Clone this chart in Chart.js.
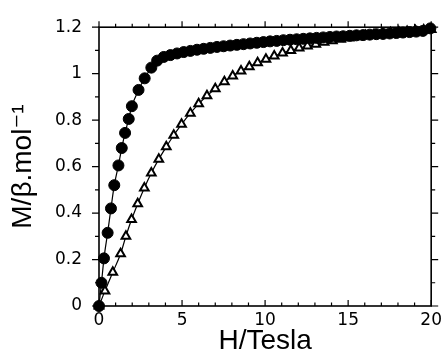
<!DOCTYPE html>
<html lang="en">
<head>
    <meta charset="UTF-8">
    <title>M vs H</title>
    <script src="https://cdn.jsdelivr.net/npm/chart.js"></script>
    <style>
        body {
            margin: 0;
            background-color: #ffffff;
        }
        canvas {
            display: block;
        }
    </style>
</head>
<body>
    <canvas id="myChart" width="446" height="358"></canvas>

    <script>
        // filled circles: field (Tesla) and magnetisation
        const circleH = [0, 0.15, 0.3, 0.52, 0.72, 0.92, 1.17, 1.37, 1.57, 1.79, 1.98, 2.38, 2.75, 3.15, 3.5, 3.9,
            4.3, 4.7, 5.1, 5.5, 5.9, 6.3, 6.7, 7.1, 7.5, 7.9, 8.3, 8.7, 9.1, 9.5, 9.9, 10.3, 10.7, 11.1, 11.5,
            11.9, 12.3, 12.7, 13.1, 13.5, 13.9, 14.3, 14.7, 15.1, 15.5, 15.9, 16.3, 16.7, 17.1, 17.5, 17.9,
            18.3, 18.7, 19.1, 19.5, 19.95];
        const circleM = [0, 0.1, 0.205, 0.315, 0.42, 0.52, 0.605, 0.68, 0.745, 0.805, 0.86, 0.93, 0.98, 1.026, 1.056, 1.072,
            1.08, 1.087, 1.093, 1.098, 1.103, 1.107, 1.111, 1.115, 1.118, 1.121, 1.124, 1.127, 1.13, 1.133, 1.136, 1.139, 1.141, 1.144, 1.146,
            1.148, 1.15, 1.152, 1.154, 1.156, 1.158, 1.16, 1.161, 1.163, 1.165, 1.166, 1.168, 1.17, 1.171, 1.173, 1.175,
            1.177, 1.179, 1.181, 1.184, 1.195];

        // open triangles
        const triangleH = [0, 0.36, 0.83, 1.3, 1.62, 1.96, 2.33, 2.73, 3.15, 3.6, 4.05, 4.5, 4.97, 5.5, 6.0, 6.5, 7.0,
            7.55, 8.05, 8.55, 9.05, 9.55, 10.05, 10.55, 11.05, 11.55, 12.05, 12.55, 13.05, 13.55, 14.05, 14.55,
            15.05, 15.55, 16.05, 16.55, 17.05, 17.55, 18.05, 18.55, 19.05, 19.55, 20.0];
        const triangleM = [0, 0.065, 0.145, 0.225, 0.3, 0.372, 0.44, 0.508, 0.572, 0.632, 0.685, 0.735, 0.782, 0.83, 0.87, 0.905, 0.935,
            0.965, 0.99, 1.012, 1.03, 1.047, 1.062, 1.076, 1.089, 1.1, 1.11, 1.119, 1.127, 1.135, 1.142, 1.148,
            1.154, 1.159, 1.164, 1.168, 1.172, 1.176, 1.179, 1.182, 1.185, 1.188, 1.19];

        const xTicks = [0, 5, 10, 15, 20];
        const xTickLabels = ['0', '5', '10', '15', '20'];
        const yTicks = [0, 0.2, 0.4, 0.6, 0.8, 1, 1.2];
        const yTickLabels = ['0', '0.2', '0.4', '0.6', '0.8', '1', '1.2'];

        // minor tick positions
        const xMinor = [0, 1, 2, 3, 4, 5, 6, 7, 8, 9, 10, 11, 12, 13, 14, 15, 16, 17, 18, 19, 20];
        const yMinor = [0, 0.1, 0.2, 0.3, 0.4, 0.5, 0.6, 0.7, 0.8, 0.9, 1, 1.1, 1.2];

        const tickFont = { family: "'DejaVu Sans', sans-serif", size: 17 };
        const titleFont = { family: "'Liberation Sans', 'DejaVu Sans', sans-serif", size: 28 };

        // frame box with tick marks on all four sides
        const frameTicks = {
            id: 'frameTicks',
            beforeDatasetsDraw(chart) {
                const ctx = chart.ctx;
                const a = chart.chartArea;
                const x = chart.scales.x;
                const y = chart.scales.y;
                ctx.save();
                ctx.strokeStyle = '#000';
                ctx.lineWidth = 1.6;
                ctx.strokeRect(a.left, a.top, a.right - a.left, a.bottom - a.top);
                ctx.lineWidth = 1.2;
                ctx.beginPath();
                xMinor.forEach(function (v) {
                    const px = x.getPixelForValue(v);
                    const len = xTicks.includes(v) ? 6 : 3.5;
                    ctx.moveTo(px, a.top);
                    ctx.lineTo(px, a.top - len);
                    ctx.moveTo(px, a.bottom);
                    ctx.lineTo(px, a.bottom - len);
                });
                yMinor.forEach(function (v) {
                    const py = y.getPixelForValue(v);
                    const major = Math.abs(v * 5 - Math.round(v * 5)) < 1e-9;
                    const len = major ? 7 : 4;
                    ctx.moveTo(a.left, py);
                    ctx.lineTo(a.left - len, py);
                    ctx.moveTo(a.right, py);
                    ctx.lineTo(a.right + len, py);
                });
                ctx.stroke();
                ctx.restore();
            }
        };

        const config = {
            type: 'scatter',
            data: {
                datasets: [{
                    label: 'circles',
                    data: circleH.map(function (h, i) { return { x: h, y: circleM[i] }; }),
                    showLine: true,
                    borderColor: '#000',
                    borderWidth: 1.2,
                    pointStyle: 'circle',
                    pointRadius: 5.5,
                    pointBackgroundColor: '#000',
                    pointBorderColor: '#000',
                    pointBorderWidth: 1,
                    cubicInterpolationMode: 'monotone',
                    clip: false
                }, {
                    label: 'triangles',
                    data: triangleH.map(function (h, i) { return { x: h, y: triangleM[i] }; }),
                    showLine: true,
                    borderColor: '#000',
                    borderWidth: 1.2,
                    pointStyle: 'triangle',
                    pointRadius: 5,
                    pointBackgroundColor: '#fff',
                    pointBorderColor: '#000',
                    pointBorderWidth: 2,
                    cubicInterpolationMode: 'monotone',
                    clip: false
                }]
            },
            options: {
                responsive: false,
                devicePixelRatio: 1,
                animation: false,
                layout: { padding: { left: 0, right: 11, top: 23, bottom: 0 } },
                plugins: {
                    legend: { display: false },
                    tooltip: { enabled: false }
                },
                scales: {
                    x: {
                        type: 'linear',
                        min: 0,
                        max: 20,
                        afterBuildTicks: function (s) { s.ticks = xTicks.map(function (v) { return { value: v }; }); },
                        afterFit: function (s) { s.height = 52; },
                        grid: { display: false, drawTicks: false },
                        border: { display: false },
                        ticks: {
                            color: '#000',
                            font: tickFont,
                            padding: 4,
                            maxRotation: 0,
                            callback: function (v, i) { return xTickLabels[i]; }
                        },
                        title: {
                            display: true,
                            text: 'H/Tesla',
                            color: '#000',
                            font: titleFont,
                            padding: { top: 0, bottom: 0 }
                        }
                    },
                    y: {
                        type: 'linear',
                        min: 0,
                        max: 1.2,
                        afterBuildTicks: function (s) { s.ticks = yTicks.map(function (v) { return { value: v }; }); },
                        afterFit: function (s) { s.width = 99; },
                        grid: { display: false, drawTicks: false },
                        border: { display: false },
                        ticks: {
                            color: '#000',
                            font: tickFont,
                            padding: 17,
                            callback: function (v, i) { return yTickLabels[i]; }
                        },
                        title: {
                            display: true,
                            text: 'M/\u03b2.mol\u207b\u00b9',
                            color: '#000',
                            font: titleFont,
                            padding: { top: 6, bottom: 0 }
                        }
                    }
                }
            },
            plugins: [frameTicks]
        };

        var myChart = new Chart(document.getElementById('myChart'), config);
    </script>
</body>
</html>
